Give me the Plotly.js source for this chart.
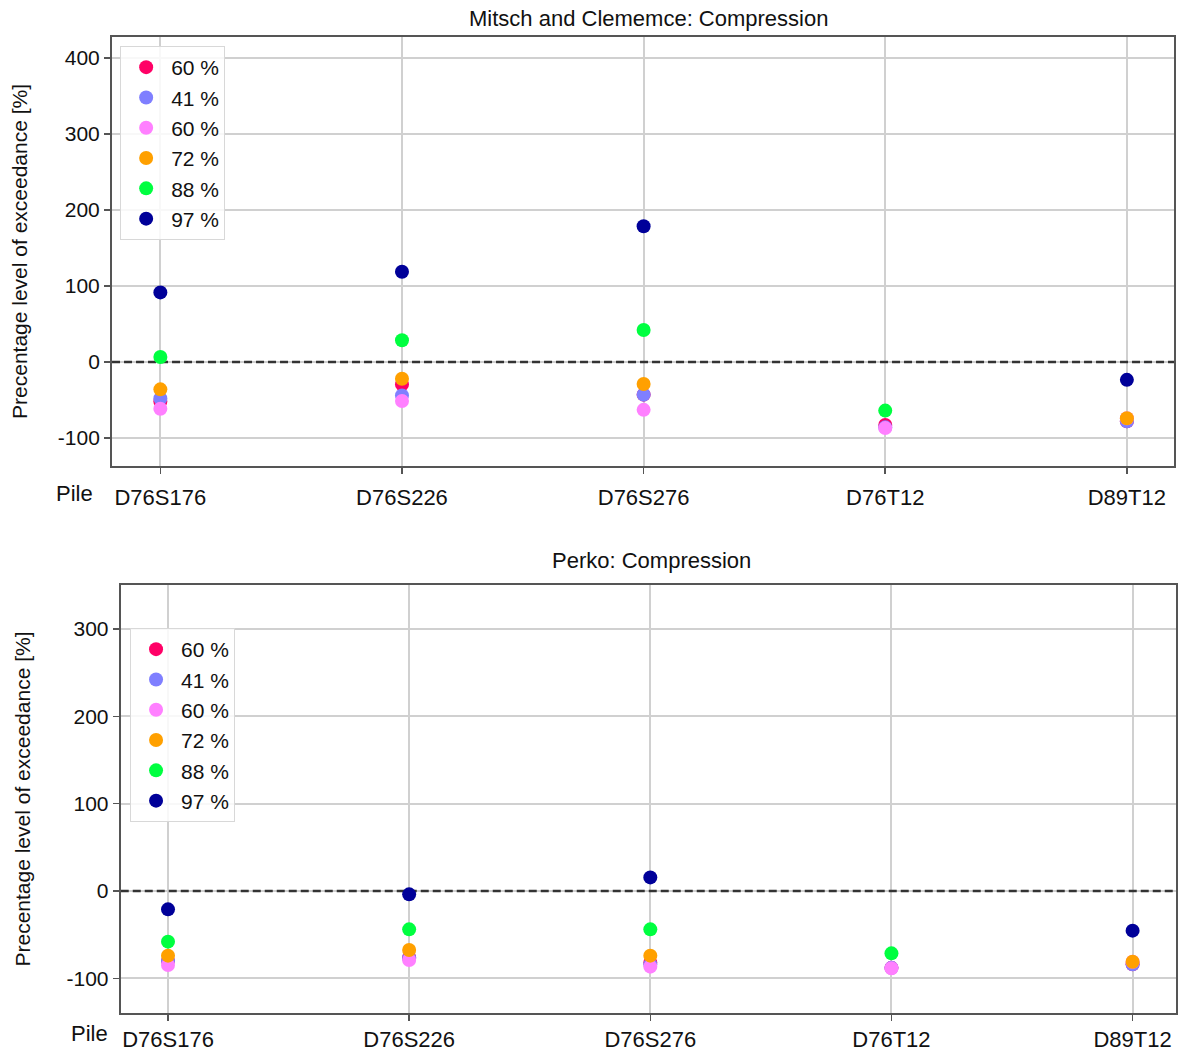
<!DOCTYPE html>
<html>
<head>
<meta charset="utf-8">
<script src="https://cdn.plot.ly/plotly-3.0.1.min.js"></script>
<style>html,body{margin:0;padding:0;background:#fff;}#chart{width:1178px;height:1053px;}</style>
</head>
<body>
<div id="chart"></div>
<script>
const piles = ["D76S176", "D76S226", "D76S276", "D76T12", "D89T12"];
const seriesNames = ["60 %", "41 %", "60 %", "72 %", "88 %", "97 %"];
const seriesColors = ["#ff0066", "#7f7fff", "#ff80ff", "#ffa000", "#00ff40", "#000099"];
const topYTicks = [-100, 0, 100, 200, 300, 400];
const topYTickText = ["-100", "0", "100", "200", "300", "400"];
const botYTicks = [-100, 0, 100, 200, 300];
const botYTickText = ["-100", "0", "100", "200", "300"];
const refLevel = 0; // dashed reference line

// Mitsch and Clememce: Compression
const mitschRed    = [-52, -29.5, -43, -83, -78];
const mitschPeri   = [-48, -44, -43, -86, -78];
const mitschPink   = [-61.5, -51.4, -63, -87, -74];
const mitschOrange = [-36, -22, -29, null, -74];
const mitschGreen  = [6.6, 28.6, 42, -64, null];
const mitschNavy   = [91.5, 118.7, 178.5, null, -23.5];

// Perko: Compression
const perkoRed    = [-80, -76, -82, -88, -84];
const perkoPeri   = [-80, -77, -84, -88, -84];
const perkoPink   = [-84.7, -79, -86.6, -88.5, -81];
const perkoOrange = [-74, -67.6, -74, null, -81];
const perkoGreen  = [-58, -43.9, -43.9, -71.4, null];
const perkoNavy   = [-21, -3.8, 15.6, null, -45.4];

const yTitle = "Precentage level of exceedance [%]";
const FONT = "Liberation Sans, Arial, sans-serif";

const topSeries = [mitschRed, mitschPeri, mitschPink, mitschOrange, mitschGreen, mitschNavy];
const botSeries = [perkoRed, perkoPeri, perkoPink, perkoOrange, perkoGreen, perkoNavy];
const xIdx = piles.map((_, i) => i);
const xRangeTop = [-0.2, 4.195];
const xRangeBot = [-0.196, 4.18];

const traces = [];
// dashed zero reference lines spanning the full x-range (drawn under the markers)
traces.push({x: xRangeTop, y: [refLevel, refLevel], type: "scatter", mode: "lines",
  xaxis: "x", yaxis: "y", showlegend: false, hoverinfo: "skip",
  line: {color: "#333", width: 2.5, dash: "8px,4px"}});
traces.push({x: xRangeBot, y: [refLevel, refLevel], type: "scatter", mode: "lines",
  xaxis: "x2", yaxis: "y2", showlegend: false, hoverinfo: "skip",
  line: {color: "#333", width: 2.5, dash: "8px,4px"}});

topSeries.forEach((vals, i) => {
  traces.push({
    x: xIdx, y: vals, type: "scatter", mode: "markers",
    name: seriesNames[i], xaxis: "x", yaxis: "y", legend: "legend",
    marker: {color: seriesColors[i], size: 14},
    cliponaxis: false
  });
});
botSeries.forEach((vals, i) => {
  traces.push({
    x: xIdx, y: vals, type: "scatter", mode: "markers",
    name: seriesNames[i], xaxis: "x2", yaxis: "y2", legend: "legend2",
    marker: {color: seriesColors[i], size: 14},
    cliponaxis: false
  });
});

const axCommon = {
  showline: true, mirror: true, linecolor: "#555", linewidth: 2,
  showgrid: true, gridcolor: "#d0d0d0", gridwidth: 2,
  zeroline: false, ticks: "outside", ticklen: 6, tickcolor: "#555", tickwidth: 1.5
};
const xTickFont = {family: FONT, size: 22, color: "#111"};
const yTickFont = {family: FONT, size: 21, color: "#111"};
const legendFont = {family: FONT, size: 21, color: "#111"};

const layout = {
  width: 1178, height: 1053,
  margin: {l: 0, r: 0, t: 0, b: 0},
  paper_bgcolor: "#fff", plot_bgcolor: "#fff",
  font: {family: FONT, color: "#111"},
  showlegend: true,
  xaxis: Object.assign({}, axCommon, {
    domain: [0.0951, 0.9966], anchor: "y", tickfont: xTickFont,
    range: xRangeTop, tickvals: xIdx, ticktext: piles, ticklabelstandoff: 5
  }),
  yaxis: Object.assign({}, axCommon, {
    domain: [0.5575, 0.9649], anchor: "x", tickfont: yTickFont,
    range: [-136.8, 427.6], tickvals: topYTicks, ticktext: topYTickText,
    title: {text: yTitle, font: {family: FONT, size: 21, color: "#111"}, standoff: 24}
  }),
  xaxis2: Object.assign({}, axCommon, {
    domain: [0.1025, 0.9983], anchor: "y2", tickfont: xTickFont,
    range: xRangeBot, tickvals: xIdx, ticktext: piles, ticklabelstandoff: 0
  }),
  yaxis2: Object.assign({}, axCommon, {
    domain: [0.038, 0.4444], anchor: "x2", tickfont: yTickFont,
    range: [-139.7, 350.5], tickvals: botYTicks, ticktext: botYTickText,
    title: {text: yTitle, font: {family: FONT, size: 21, color: "#111"}, standoff: 30}
  }),
  legend: {
    x: 0.102, y: 0.9563, xanchor: "left", yanchor: "top",
    bgcolor: "rgba(255,255,255,0.85)", bordercolor: "#d8d8d8", borderwidth: 1,
    font: legendFont, itemwidth: 40, tracegroupgap: 0
  },
  legend2: {
    x: 0.1104, y: 0.4036, xanchor: "left", yanchor: "top",
    bgcolor: "rgba(255,255,255,0.85)", bordercolor: "#d8d8d8", borderwidth: 1,
    font: legendFont, itemwidth: 40, tracegroupgap: 0
  },
  annotations: [
    {text: "Mitsch and Clememce: Compression", xref: "paper", yref: "paper",
     x: 648/1178, y: 1 - 18/1053, xanchor: "center", yanchor: "middle", showarrow: false,
     font: {family: FONT, size: 22, color: "#111"}},
    {text: "Perko: Compression", xref: "paper", yref: "paper",
     x: 651/1178, y: 1 - 560/1053, xanchor: "center", yanchor: "middle", showarrow: false,
     font: {family: FONT, size: 22, color: "#111"}},
    {text: "Pile", xref: "paper", yref: "paper",
     x: 74/1178, y: 1 - 493/1053, xanchor: "center", yanchor: "middle", showarrow: false,
     font: {family: FONT, size: 22, color: "#111"}},
    {text: "Pile", xref: "paper", yref: "paper",
     x: 89/1178, y: 1 - 1033/1053, xanchor: "center", yanchor: "middle", showarrow: false,
     font: {family: FONT, size: 22, color: "#111"}}
  ]
};

Plotly.newPlot("chart", traces, layout, {displayModeBar: false, staticPlot: true});
</script>
</body>
</html>
